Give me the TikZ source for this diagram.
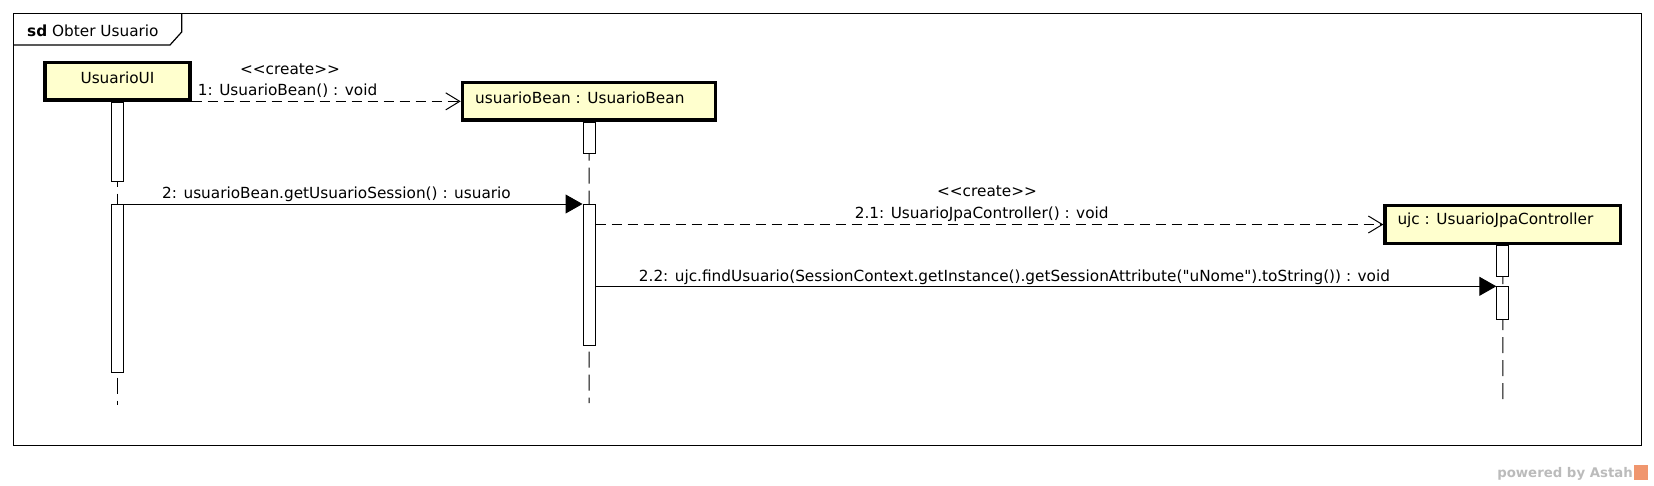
\documentclass[tikz,border=0pt]{standalone}
\usepackage{fontspec}
\setmainfont{DejaVu Sans}[Ligatures=TeXOff]
\usetikzlibrary{arrows.meta}
\definecolor{objfill}{RGB}{255,255,206}
\definecolor{wmgray}{RGB}{187,187,187}
\definecolor{wmorange}{RGB}{240,150,110}
\newcommand{\crtlbl}{<\kern0pt<create>\kern0pt>}
\begin{document}
\begin{tikzpicture}[x=1pt,y=-1pt,
  every node/.style={font=\fontsize{15.3}{18}\selectfont, inner sep=0pt},
  objbox/.style={draw, line width=3.3pt, fill=objfill, anchor=north west, inner sep=0pt},
  actbar/.style={draw, line width=1pt, fill=white, minimum width=12pt, anchor=north, inner sep=0pt},
  lifeline/.style={line width=1pt, dash pattern=on 16pt off 7pt},
  syncmsg/.style={line width=1pt, -{Triangle[length=17pt,width=19pt]}},
  createmsg/.style={line width=1pt, dash pattern=on 10pt off 6pt, -{Straight Barb[length=14pt,width=17pt]}},
  lbl/.style={anchor=base west},
  clbl/.style={anchor=base},
  framestyle/.style={line width=1.2pt}
]
\useasboundingbox (0,0) rectangle (1654,485);
% frame
\draw[framestyle] (13.3,13.3) rectangle (1641.7,445.3);
\draw[framestyle] (13.3,45) -- (170,45) -- (181.7,32) -- (181.7,13.3);
\node[lbl] (title) at (27,36) {\textbf{sd} Obter Usuario};
% objects
\node[objbox, minimum width=145.1pt, minimum height=37.4pt] (ui) at (43.3,61) {};
\node[objbox, minimum width=253.3pt, minimum height=37.4pt] (bean) at (460.7,81) {};
\node[objbox, minimum width=235.7pt, minimum height=37.7pt] (ujc) at (1383.3,204) {};
\node[clbl] (uit) at (117.5,83) {UsuarioUI};
\node[lbl] (beant) at (475,103.3) {usuarioBean : UsuarioBean};
\node[lbl] (ujct) at (1397.3,224) {ujc : UsuarioJpaController};
% lifeline ends
\coordinate (uiEnd) at (117.5,405);
\coordinate (beanEnd) at (589,403);
\coordinate (ujcEnd) at (1502.8,403);
\draw[lifeline] (ui.south) -- (uiEnd);
\draw[lifeline] (bean.south) -- (beanEnd);
\draw[lifeline] (ujc.south) -- (ujcEnd);
% activation bars
\node[actbar, minimum height=79pt] (uiA1) at (ui.south) {};
\node[actbar, minimum height=168.3pt] (uiA2) at (ui.south |- 0,204) {};
\node[actbar, minimum height=31.6pt] (beanA1) at (bean.south) {};
\node[actbar, minimum height=141pt] (beanA2) at (bean.south |- 0,204) {};
\node[actbar, minimum height=31.3pt] (ujcA1) at (ujc.south) {};
\node[actbar, minimum height=32.7pt] (ujcA2) at (ujc.south |- 0,286.3) {};
% messages
\draw[createmsg] (ui.east |- bean.west) -- (bean.west);
\node[clbl] (m1s) at (290,74) {\crtlbl};
\node[lbl] (m1) at (197.7,95.7) {1: UsuarioBean() : void};
\draw[syncmsg] (uiA2.north east) -- (beanA2.north west);
\node[lbl] (m2) at (162,198) {2: usuarioBean.getUsuarioSession() : usuario};
\draw[createmsg] (beanA2.east |- ujc.west) -- (ujc.west);
\node[clbl] (m21s) at (987,196.7) {\crtlbl};
\node[lbl] (m21) at (854.6,218.3) {2.1: UsuarioJpaController() : void};
\draw[syncmsg] (beanA2.east |- ujcA2.north) -- (ujcA2.north west);
\node[lbl] (m22) at (638.7,281) {2.2: ujc.findUsuario(SessionContext.getInstance().getSessionAttribute("uNome").toString()) : void};
% watermark
\node[anchor=base east, font=\fontsize{13.3}{16}\selectfont\bfseries, text=wmgray] (wm) at (1633,477.7) {powered by Astah};
\node[fill=wmorange, minimum width=14pt, minimum height=15pt, anchor=south west] (logo) at (1634,480) {};
\end{tikzpicture}
\end{document}
